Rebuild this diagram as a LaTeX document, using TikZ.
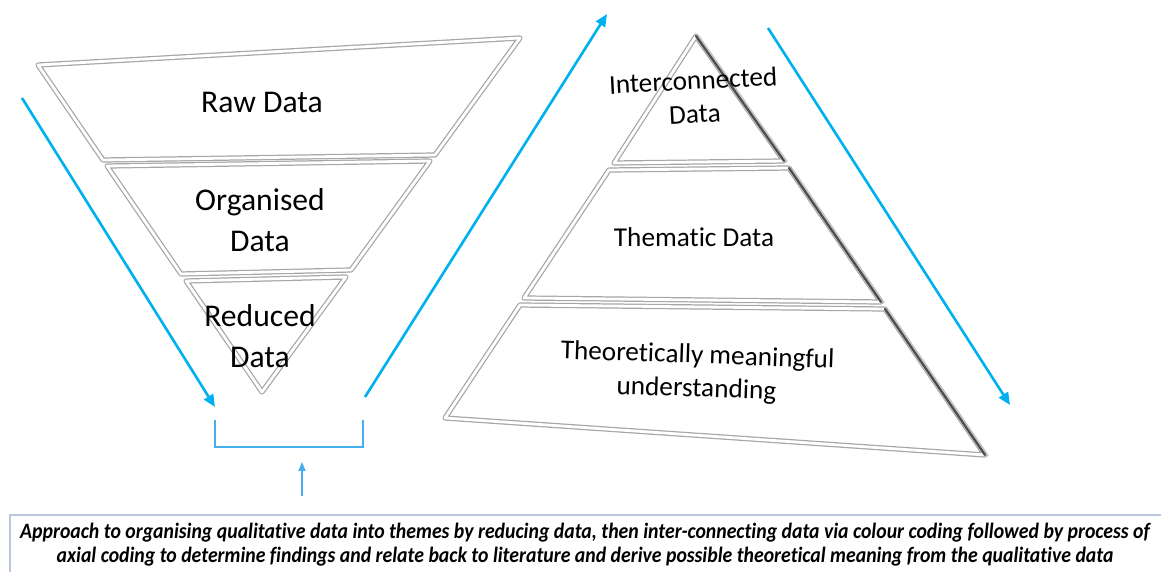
\documentclass[tikz,border=0pt]{standalone}
\usepackage{fontspec}
\setmainfont{Carlito}[Ligatures=NoCommon]
\newfontfamily\notefont[FakeStretch=0.9, Ligatures=NoCommon]{Carlito}
\usetikzlibrary{arrows.meta,calc}

\definecolor{flowblue}{RGB}{0,176,240}
\definecolor{paleblue}{RGB}{70,175,240}
\definecolor{boxline}{RGB}{185,198,222}

\begin{document}
\begin{tikzpicture}[x=0.02cm, y=-0.02cm, >={Triangle[length=7pt,width=6pt]},
	   seg/.style={draw=gray!70, double=white, double distance=1.6pt, line width=0.7pt, line join=round},
	   rim/.style={draw=black!70, line width=1.3pt, line cap=round},
	   flow/.style={->, flowblue, line width=1.5pt},
	   lbl/.style={align=center, font=\fontsize{18}{23}\selectfont},
	   lbls/.style={align=center, font=\fontsize{15.5}{19}\selectfont}]
	  \useasboundingbox (0,0) rectangle (1161,572);

	  % funnel, top to bottom
	  \draw[seg] (38,65) -- (520,38) -- (435,155) -- (103,160) -- cycle;
	  \draw[seg] (107,166) -- (430,161) -- (351,270) -- (181,274) -- cycle;
	  \draw[seg] (186,281) -- (346,277) -- (262,392) -- cycle;
	  \node[lbl] (raw) at (262,102) {Raw Data};
	  \node[lbl] (org) at (260,220) {Organised\\Data};
	  \node[lbl] (red) at (260,336) {Reduced\\Data};

	  % pyramid
	  \draw[seg] (696,36) -- (784,161) -- (614,163) -- cycle;
	  \draw[seg] (609,170) -- (789,168) -- (881,302) -- (524,298) -- cycle;
	  \draw[seg] (520,305) -- (885,309) -- (985,455) -- (445,418) -- cycle;
	  \foreach \a/\b in {{(696,36)}/{(784,161)}, {(789,168)}/{(881,302)}, {(885,309)}/{(985,455)}} {
	    \draw[gray!45, line width=1.2pt, shift={(3,1)}] \a -- \b;
	    \draw[rim] \a -- \b;
	  }
	  \node[lbls, rotate=3] (inter) at (694,97) {Interconnected\\Data};
	  \node[lbls] (theme) at (694,237) {Thematic Data};
	  \node[lbls, rotate=-2] (theory) at (697,373) {Theoretically meaningful\\understanding};

	  % direction of analysis
	  \coordinate (a1) at (22,98);   \coordinate (b1) at (215,407);
	  \coordinate (a2) at (365,397); \coordinate (b2) at (607,14);
	  \coordinate (a3) at (768,28);  \coordinate (b3) at (1010,405);
	  \draw[flow] (a1) -- (b1);
	  \draw[flow] (a2) -- (b2);
	  \draw[flow] (a3) -- (b3);

	  % bracket under the funnel
	  \coordinate (brl) at (215,420);
	  \coordinate (brr) at (363,420);
	  \coordinate (brm) at (363,447);
	  \draw[paleblue, line width=0.7pt] (brl) |- (brm) -- (brr);
	  \coordinate (up0) at (302,496);
	  \coordinate (up1) at (302,462);
	  \draw[->, >={Triangle[length=5pt,width=4pt]}, paleblue, line width=0.6pt] (up0) -- (up1);

	  % note
	  \draw[boxline, line width=0.8pt] (10,580) |- (1170,515);
	  \node[align=center, font=\notefont\fontsize{12.5}{13.6}\selectfont\bfseries\itshape] (note) at (585,545)
	    {Approach to organising qualitative data into themes by reducing data, then inter-connecting data via colour coding followed by process of\\
	     axial coding to determine findings and relate back to literature and derive possible theoretical meaning from the qualitative data};
	\end{tikzpicture}
\end{document}
